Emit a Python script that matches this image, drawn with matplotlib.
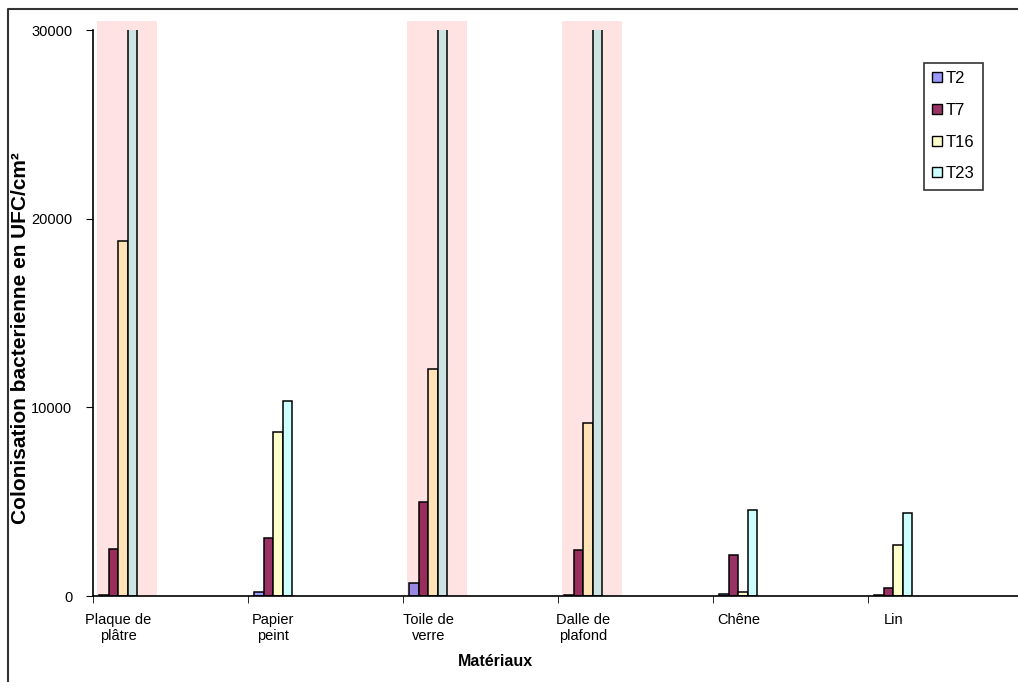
import numpy as np
import matplotlib.pyplot as plt
from matplotlib.patches import Patch, Rectangle
from matplotlib.lines import Line2D
from matplotlib.colors import to_rgb

plt.rcParams['font.family'] = ['Liberation Sans', 'DejaVu Sans']

# Data (UFC/cm²), T23 of the highlighted materials goes off the scale
materiaux = ['Plaque de\nplâtre', 'Papier\npeint', 'Toile de\nverre', 'Dalle de\nplafond', 'Chêne', 'Lin']
series = ['T2', 'T7', 'T16', 'T23']
t2 = [50, 210, 690, 50, 80, 60]
t7 = [2500, 3080, 4990, 2440, 2180, 420]
t16 = [18800, 8710, 12050, 9190, 200, 2710]
t23 = [32000, 10360, 32000, 32000, 4570, 4410]
highlight = [0, 2, 3]  # materials shaded in pink

colors = ['#9999FF', '#993366', '#FFFFCC', '#CCFFFF']
pink = '#FFE3E3'

fig = plt.figure(figsize=(10.18, 6.82), dpi=100)
ax = fig.add_axes([93 / 1018, 1 - 596 / 682, 930 / 1018, 566 / 682])

# outer frame of the chart (only left and top visible)
fig.add_artist(Line2D([8 / 1018, 8 / 1018, 1.0], [0, 1 - 9 / 682, 1 - 9 / 682],
                      transform=fig.transFigure, color='#333333', lw=1.5))

bw = 0.062
off = 0.039
x = np.arange(len(materiaux))

# pink bands behind the highlighted groups
for i in highlight:
    ax.add_patch(Rectangle((i + 0.025, 0), 0.39, 30470, facecolor=pink,
                           edgecolor='none', zorder=0, clip_on=False))

pk = np.array(to_rgb(pink))
for k, vals in enumerate([t2, t7, t16, t23]):
    fc = []
    for i in range(len(materiaux)):
        c = np.array(to_rgb(colors[k]))
        fc.append(tuple(c * pk) if i in highlight else tuple(c))
    ax.bar(x + off + k * bw, vals, width=bw, align='edge', color=fc,
           edgecolor='black', linewidth=1.1, zorder=2)

ax.set_xlim(0, len(materiaux))
ax.set_ylim(0, 30000)
ax.set_yticks([0, 10000, 20000, 30000])
ax.set_yticklabels(['0', '10000', '20000', '30000'])
ax.set_xticks(x, minor=True)
ax.set_xticks(x + off + 2 * bw)
ax.set_xticklabels(materiaux, fontsize=10.5, linespacing=1.2)
ax.tick_params(axis='x', which='major', length=0, pad=12)
ax.tick_params(axis='x', which='minor', length=5, direction='out')
ax.tick_params(axis='y', length=5, direction='out', labelsize=10.5, pad=10)
ax.spines['top'].set_visible(False)
ax.spines['right'].set_visible(False)
ax.spines['left'].set_linewidth(1.2)
ax.spines['bottom'].set_linewidth(1.2)

fig.text(495 / 1018, 1 - 661 / 682, 'Matériaux', ha='center', va='center',
         fontsize=11.5, fontweight='bold')
fig.text(21 / 1018, 1 - 338 / 682, 'Colonisation bacterienne en UFC/cm²',
         ha='center', va='center', rotation=90, fontsize=15, fontweight='bold')

handles = [Patch(facecolor=c, edgecolor='black', linewidth=1.0) for c in colors]
leg = ax.legend(handles, series, loc='upper left',
                bbox_to_anchor=(924 / 1018, 1 - 63 / 682), bbox_transform=fig.transFigure,
                borderaxespad=0, fontsize=12, handlelength=0.55, handleheight=0.55,
                handletextpad=0.25, labelspacing=1.0, borderpad=0.5,
                fancybox=False, frameon=True)
leg.get_frame().set_edgecolor('black')
leg.get_frame().set_linewidth(1.2)

fig.savefig('out.png', dpi=100)
